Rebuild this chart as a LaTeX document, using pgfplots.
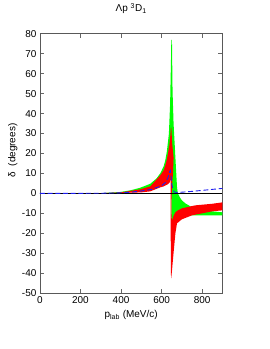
\documentclass[border=0pt]{standalone}
\usepackage{pgfplots}
\pgfplotsset{compat=1.18}
\usepackage{fontspec}
\setmainfont{Liberation Sans}
\definecolor{bgreen}{RGB}{0,255,0}
\definecolor{bred}{RGB}{255,0,0}
\definecolor{bblue}{RGB}{30,30,240}
\begin{document}
\begin{tikzpicture}[x=1pt,y=1pt]
\path (0,0) rectangle (270,349);
\begin{axis}[at={(40pt,56pt)}, anchor=south west,
  width=183pt, height=260pt, scale only axis,
  xmin=0, xmax=900, ymin=-50, ymax=80,
  xtick={0,200,400,600,800}, ytick={-50,-40,...,80},
  tick align=inside, major tick length=4pt,
  tick style={black!60, line width=0.6pt},
  axis line style={black!65, line width=0.8pt},
  ticklabel style={font=\fontsize{10}{12}\selectfont},
  /pgf/number format/assume math mode=true,
  xlabel={p\textsubscript{lab} (MeV/c)},
  xlabel style={font=\fontsize{10}{12}\selectfont},
  ylabel={δ~~(degrees)},
  ylabel style={font=\fontsize{10}{12}\selectfont, at={(axis description cs:-0.148,0.55)}, anchor=center},
  title={Λp \textsuperscript{3}D\textsubscript{1}},
  title style={font=\fontsize{10}{12}\selectfont, at={(axis description cs:0.5,1)}, anchor=base, yshift=16pt},
]
% green band
\addplot[fill=bgreen, draw=none] coordinates {
(0,0) (300,0.1) (396,0.7) (445,1.5) (494,2.8) (544,4.8) (575,7.5) (593,10) (610,13.5) (618,16.5) (626,21) (636,30) (642,45) (646,65) (648,77)
(651,77) (654,51) (659,35) (668,18) (676,3) (680,0)
(690,-2) (700,-3.5) (717,-5) (750,-7) (800,-8.3) (850,-9) (900,-9.5)
(900,-11) (850,-11) (800,-11) (750,-11) (700,-11.5) (670,-12.5) (655,-14) (649,-14)
(646,14) (640,9) (630,7) (610,5) (593,4) (544,2) (494,1.2) (445,0.6) (400,0.3) (300,0.05)
} -- cycle;
% red band
\addplot[fill=bred, draw=none] coordinates {
(0,0) (300,0.1) (400,0.5) (494,2) (544,3.5) (593,9) (610,11.5) (618,14) (626,17) (638,24) (643,29) (645.5,33)
(648,33) (652,25) (659,18) (656,10) (651,3) (648,-5)
(649,-12) (652,-13.5) (660,-11) (668,-9.5) (680,-8.5) (700,-7.5) (766,-6) (850,-5.2) (900,-4.5)
(900,-8.5) (850,-9) (800,-10) (750,-11) (700,-13) (676,-15) (668,-20) (657,-32) (650,-40) (647.5,-42.5) (645.5,-40)
(645,-20) (645,8) (640,5.5) (630,4.5) (610,3.5) (593,3) (544,1) (500,0.5) (400,0.2) (300,0.05)
} -- cycle;
% zero line
\addplot[black, line width=0.7pt] coordinates {(0,0) (900,0)};
% blue dashed
\addplot[bblue, line width=0.9pt, dash pattern=on 5pt off 2.7pt] coordinates {
(0,0) (300,0.05) (400,0.3) (450,0.6) (500,1.2) (550,2) (600,3.8) (620,5.5) (632,8) (640,11) (643,11.5) (646,9) (650,5) (655,2) (662,0.8) (675,0.4) (700,0.6) (750,1) (800,1.5) (850,2) (900,2.5)
};
\end{axis}
\end{tikzpicture}
\end{document}
